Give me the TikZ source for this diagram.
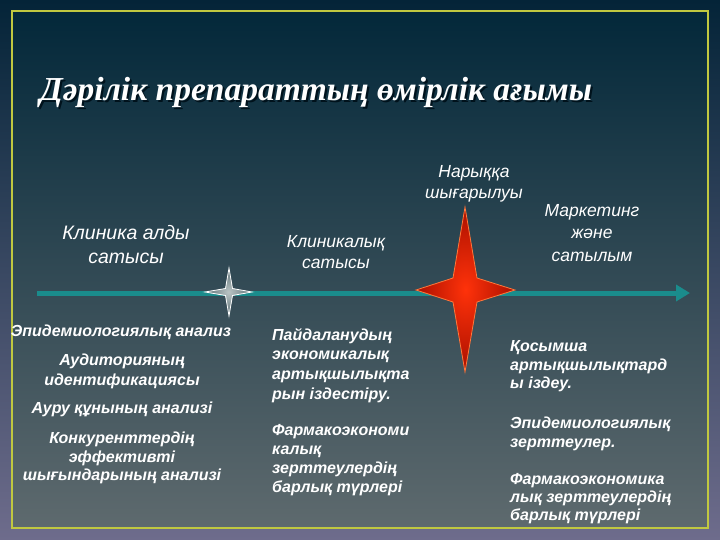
\documentclass[tikz,border=0pt]{standalone}
\usepackage{fontspec}
\usetikzlibrary{arrows.meta}
\newfontfamily\labfont{Liberation Sans}
\newfontfamily\titlefont{Liberation Serif}
\definecolor{frameyel}{RGB}{192,200,64}
\definecolor{bgtop}{RGB}{3,40,58}
\definecolor{bgmid}{RGB}{28,58,72}
\definecolor{bgbot}{RGB}{94,106,110}
\definecolor{outtop}{RGB}{4,36,56}
\definecolor{outbot}{RGB}{110,108,140}
\definecolor{arrteal}{RGB}{26,140,140}
\definecolor{starred}{RGB}{255,50,10}
\definecolor{stardark}{RGB}{170,16,0}
\definecolor{starline}{RGB}{255,120,60}
\definecolor{sgray}{RGB}{185,195,195}
\definecolor{sgraydark}{RGB}{90,110,115}
\definecolor{tshadow}{RGB}{0,18,28}
\newcommand{\shadowtext}[1]{\makebox[0pt][l]{\hspace{2pt}\raisebox{-2pt}{\color{tshadow}#1}}#1}
\tikzset{
  stagelab/.style={text=white, align=center, inner sep=0pt,
    font=\labfont\itshape\fontsize{17.5}{21}\selectfont},
  listc/.style={text=white, align=center, inner sep=0pt,
    font=\labfont\bfseries\itshape\fontsize{16}{19.5}\selectfont},
  listl/.style={text=white, align=left, inner sep=0pt, anchor=west,
    font=\labfont\bfseries\itshape\fontsize{16}{19}\selectfont},
  titlestyle/.style={inner sep=0pt, text=white,
    font=\titlefont\bfseries\itshape\fontsize{33.5}{38}\selectfont},
}
\begin{document}
\begin{tikzpicture}[x=1pt,y=-1pt]
\useasboundingbox (0,0) rectangle (720,540);
% backgrounds
\shade[top color=outtop, bottom color=outbot] (0,0) rectangle (720,540);
\shade[top color=bgtop, middle color=bgmid, bottom color=bgbot] (12,11) rectangle (708,528);
\draw[frameyel, line width=2pt] (12,11) rectangle (708,528);
% title
\node[titlestyle] (title) at (316,93) {\shadowtext{Дәрілік препараттың өмірлік ағымы}};
% stage labels
\node[stagelab, font=\labfont\itshape\fontsize{19.5}{24}\selectfont] (preclin) at (126,245) {Клиника алды\\сатысы};
\node[stagelab] (clin) at (336,252) {Клиникалық\\сатысы};
\node[stagelab] (market) at (474,184) {Нарыққа\\шығарылуы};
\node[stagelab, font=\labfont\itshape\fontsize{17.5}{22.5}\selectfont] (marketing) at (592,233) {Маркетинг\\және\\сатылым};
% timeline arrow
\coordinate (as) at (37,293);
\coordinate (ae) at (690,293);
\draw[arrteal, line width=5pt, -{Triangle[width=16pt,length=14pt]}] (as) -- (ae);
% small star
\coordinate (s1) at (229,292);
\shade[inner color=sgray, outer color=sgraydark, draw=white, line width=0.8pt]
  (229,268) -- (232.5,288.5) -- (252,292) -- (232.5,295.5) -- (229,316)
  -- (225.5,295.5) -- (205,292) -- (225.5,288.5) -- cycle;
% big red star
\coordinate (s2) at (465,290);
\shade[inner color=starred, outer color=stardark, draw=starline, line width=0.8pt]
  (465,207) -- (477,278) -- (515,290) -- (477,302) -- (465,372)
  -- (453,302) -- (416,290) -- (453,278) -- cycle;
% left list
\node[listc] (l1) at (121,332) {Эпидемиологиялық анализ};
\node[listc, font=\labfont\bfseries\itshape\fontsize{16}{20}\selectfont] (l2) at (122,371) {Аудиторияның\\идентификациясы};
\node[listc] (l3) at (122,409) {Ауру құнының анализі};
\node[listc, font=\labfont\bfseries\itshape\fontsize{16}{18.5}\selectfont] (l4) at (122,458) {Конкуренттердің\\эффективті\\шығындарының анализі};
% middle list
\node[listl, font=\labfont\bfseries\itshape\fontsize{16}{19.7}\selectfont] (m1) at (272,365.5) {Пайдаланудың\\экономикалық\\артықшылықта\\рын іздестіру.};
\node[listl] (m2) at (272,460.5) {Фармакоэкономи\\калық\\зерттеулердің\\барлық түрлері};
% right list
\node[listl, font=\labfont\bfseries\itshape\fontsize{16}{18.5}\selectfont] (r1) at (510,366.5) {Қосымша\\артықшылықтард\\ы іздеу.};
\node[listl] (r2) at (510,433.5) {Эпидемиологиялық\\зерттеулер.};
\node[listl, font=\labfont\bfseries\itshape\fontsize{16}{18}\selectfont] (r3) at (510,499) {Фармакоэкономика\\лық зерттеулердің\\барлық түрлері};
\end{tikzpicture}
\end{document}
